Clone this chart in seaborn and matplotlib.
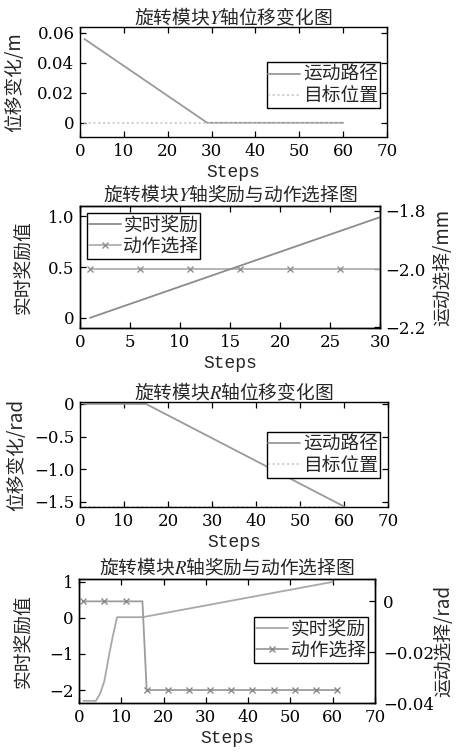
import matplotlib
matplotlib.use("Agg")
import matplotlib.pyplot as plt
import seaborn as sns

# ---------------- data ----------------
# Panel 1: rotation module Y-axis displacement
y_path_steps = [1, 29, 60]
y_path_vals = [0.056, 0.0, 0.0]
y_target_steps = [1, 60]
y_target_vals = [0.0, 0.0]

# Panel 2: Y-axis reward and action selection
y_reward_steps = [1, 30]
y_reward_vals = [0.0, 0.99]
y_action_steps = list(range(1, 31))
y_action_vals = [-2.0] * 30

# Panel 3: R-axis displacement
r_path_steps = [1, 15, 60]
r_path_vals = [0.0, 0.0, -1.57]
r_target_steps = [1, 61]
r_target_vals = [-1.5708, -1.5708]

# Panel 4: R-axis reward and action selection
r_reward_steps = [1, 4, 5, 6, 7, 8, 9, 15, 60]
r_reward_vals = [-2.3, -2.3, -2.1, -1.75, -1.1, -0.5, 0.02, 0.02, 1.0]
r_action_steps = list(range(1, 62))
r_action_vals = [0.0] * 15 + [-0.0349] * 46

titles = ["旋转模块$\\mathit{Y}$轴位移变化图",
          "旋转模块$\\mathit{Y}$轴奖励与动作选择图",
          "旋转模块$\\mathit{R}$轴位移变化图",
          "旋转模块$\\mathit{R}$轴奖励与动作选择图"]
path_label = "运动路径"
target_label = "目标位置"
reward_label = "实时奖励"
action_label = "动作选择"

# ---------------- style ----------------
sns.set_style("ticks")
plt.rcParams["font.family"] = ["Noto Sans CJK SC", "DejaVu Sans"]
plt.rcParams["mathtext.fontset"] = "stix"
plt.rcParams["axes.linewidth"] = 1.0
plt.rcParams["axes.edgecolor"] = "black"

CJK = ["Noto Sans CJK SC", "DejaVu Sans"]
NUM = "DejaVu Serif"
MONO = "Liberation Mono"

fig = plt.figure(figsize=(4.57, 7.52), dpi=100)

def px_axes(l, t, r, b):
    W, H = 457, 752
    return fig.add_axes([l / W, 1 - b / H, (r - l) / W, (b - t) / H])

def style_ax(ax, top=True, right=True, pad=4):
    ax.tick_params(direction="in", length=4, width=0.9, top=top, right=right,
                   labelsize=12, colors="black", pad=pad)
    for lab in ax.get_xticklabels() + ax.get_yticklabels():
        lab.set_fontfamily(NUM)
    for s in ax.spines.values():
        s.set_color("black")
        s.set_linewidth(1.0)

def set_title(ax, t):
    ax.set_title(t, fontsize=13.5, family=CJK, pad=2)

def set_xlabel(ax):
    ax.set_xlabel("Steps", fontsize=13, family=MONO, labelpad=3)

def set_ylabel(ax, text, x):
    ax.set_ylabel(text, fontsize=13.5, family=CJK)
    ax.yaxis.set_label_coords(x, 0.5)

def legend(ax, handles, labels, loc, anchor):
    lg = ax.legend(handles, labels, loc=loc, bbox_to_anchor=anchor,
                   prop={"family": CJK, "size": 13.5}, frameon=True,
                   fancybox=False, framealpha=1, edgecolor="black",
                   borderpad=0.1, labelspacing=0.0, handlelength=1.7,
                   handletextpad=0.15, borderaxespad=0)
    lg.get_frame().set_linewidth(1.0)
    return lg

lw = 1.3
c_path = "#9a9a9a"
c_target = "#c4c4c4"

# ---------- Panel 1 ----------
ax1 = px_axes(80, 27, 387, 137)
sns.lineplot(x=y_path_steps, y=y_path_vals, ax=ax1, color=c_path, lw=lw)
sns.lineplot(x=y_target_steps, y=y_target_vals, ax=ax1, color=c_target, lw=lw, ls=":")
ax1.set_xlim(0, 70)
ax1.set_ylim(-0.0095, 0.064)
ax1.set_xticks(range(0, 71, 10))
ax1.set_yticks([0, 0.02, 0.04, 0.06])
ax1.set_yticklabels(["0", "0.02", "0.04", "0.06"])
set_ylabel(ax1, "位移变化/m", -0.179)
set_title(ax1, titles[0])
set_xlabel(ax1)
style_ax(ax1)
h = ax1.get_lines()
legend(ax1, h[:2], [path_label, target_label], "upper right", (0.977, 0.68))

# ---------- Panel 2 ----------
ax2 = px_axes(80, 206, 380, 328)
sns.lineplot(x=y_reward_steps, y=y_reward_vals, ax=ax2, color="#8c8c8c", lw=lw)
ax2.set_xlim(0, 30)
ax2.set_ylim(-0.1, 1.1)
ax2.set_xticks(range(0, 31, 5))
ax2.set_yticks([0, 0.5, 1.0])
ax2.set_yticklabels(["0", "0.5", "1.0"])
set_ylabel(ax2, "实时奖励值", -0.157)
set_title(ax2, titles[1])
set_xlabel(ax2)
style_ax(ax2, right=False)
ax2b = ax2.twinx()
sns.lineplot(x=y_action_steps, y=y_action_vals, ax=ax2b, color="#b0b0b0", lw=lw,
             marker="x", markevery=5, markersize=4, markeredgecolor="#909090",
             markeredgewidth=1.0)
ax2b.set_ylim(-2.203, -1.783)
ax2b.set_yticks([-2.2, -2.0, -1.8])
ax2b.set_yticklabels(["−2.2", "−2.0", "−1.8"])
set_ylabel(ax2b, "运动选择/mm", 1.173)
style_ax(ax2b, top=False, right=True)
ax2.set_zorder(ax2b.get_zorder() + 1)
ax2.patch.set_visible(False)
legend(ax2, [ax2.get_lines()[0], ax2b.get_lines()[0]], [reward_label, action_label],
       "upper left", (0.023, 0.943))

# ---------- Panel 3 ----------
ax3 = px_axes(80, 402, 388, 507)
sns.lineplot(x=r_path_steps, y=r_path_vals, ax=ax3, color=c_path, lw=lw)
sns.lineplot(x=r_target_steps, y=r_target_vals, ax=ax3, color=c_target, lw=lw, ls=":")
ax3.set_xlim(0, 70)
ax3.set_ylim(-1.578, 0.03)
ax3.set_xticks(range(0, 71, 10))
ax3.set_yticks([0, -0.5, -1.0, -1.5])
ax3.set_yticklabels(["0", "−0.5", "−1.0", "−1.5"])
set_ylabel(ax3, "位移变化/rad", -0.172)
set_title(ax3, titles[2])
set_xlabel(ax3)
style_ax(ax3)
h = ax3.get_lines()
legend(ax3, h[:2], [path_label, target_label], "upper right", (0.974, 0.714))

# ---------- Panel 4 ----------
ax4 = px_axes(79, 579, 375, 703)
sns.lineplot(x=r_reward_steps, y=r_reward_vals, ax=ax4, color="#a8a8a8", lw=lw)
ax4.set_xlim(0, 70)
ax4.set_ylim(-2.36, 1.08)
ax4.set_xticks(range(0, 71, 10))
ax4.set_yticks([1, 0, -1, -2])
ax4.set_yticklabels(["1", "0", "−1", "−2"])
set_ylabel(ax4, "实时奖励值", -0.155)
set_title(ax4, titles[3])
set_xlabel(ax4)
style_ax(ax4, right=False)
ax4b = ax4.twinx()
sns.lineplot(x=r_action_steps, y=r_action_vals, ax=ax4b, color="#9c9c9c", lw=lw,
             marker="x", markevery=5, markersize=4, markeredgecolor="#8a8a8a",
             markeredgewidth=1.0)
ax4b.set_ylim(-0.0395, 0.0088)
ax4b.set_yticks([0, -0.02, -0.04])
ax4b.set_yticklabels(["0", "−0.02", "−0.04"])
set_ylabel(ax4b, "运动选择/rad", 1.196)
style_ax(ax4b, top=False, right=True, pad=6)
legend(ax4b, [ax4.get_lines()[0], ax4b.get_lines()[0]], [reward_label, action_label],
       "upper right", (0.976, 0.694))

fig.savefig("out.png", dpi=100)
